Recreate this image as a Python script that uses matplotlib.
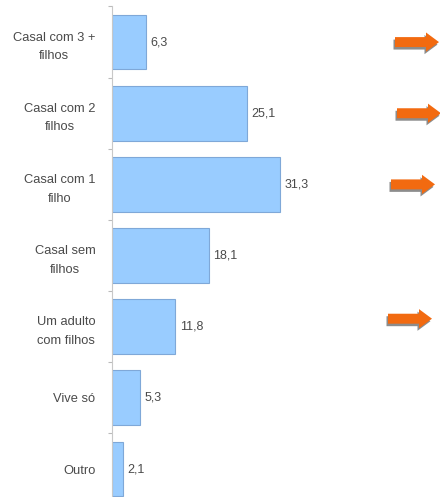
import matplotlib
matplotlib.use("Agg")
import matplotlib.pyplot as plt
from matplotlib.patches import FancyArrow
from matplotlib.transforms import blended_transform_factory, offset_copy
import numpy as np

plt.rcParams['font.family'] = ['Liberation Sans', 'DejaVu Sans']

categories = ["Casal com 3 +\nfilhos", "Casal com 2\nfilhos", "Casal com 1\nfilho",
              "Casal sem\nfilhos", "Um adulto\ncom filhos", "Vive só", "Outro"]
values = [6.3, 25.1, 31.3, 18.1, 11.8, 5.3, 2.1]
value_labels = ["6,3", "25,1", "31,3", "18,1", "11,8", "5,3", "2,1"]
highlighted = [0, 1, 2, 4]

W, H = 440, 497
fig = plt.figure(figsize=(W / 100, H / 100), dpi=100)
fig.patch.set_facecolor("white")

left_px, top_px, bottom_px = 112, 6.5, 504.6
ax = fig.add_axes([left_px / W, 1 - bottom_px / H, (W - left_px) / W, (bottom_px - top_px) / H])

y = np.arange(len(categories))
ax.barh(y, values, height=0.77, color="#99CCFF", edgecolor="#7FA8D8", linewidth=0.8)

ax.set_ylim(len(categories) - 0.5, -0.5)
ax.set_xlim(0, (W - left_px) / 5.37)

text_color = "#4A4A4A"
for yi, v, lab in zip(y, values, value_labels):
    ax.text(v + 0.8, yi, lab, va="center", ha="left", fontsize=9, color=text_color)

ax.set_yticks(y)
ax.set_yticklabels(categories, fontsize=9.3, color=text_color,
                   multialignment="center", linespacing=1.75)
ax.tick_params(axis="y", which="major", length=0, pad=12)
ax.set_yticks(np.arange(len(categories) + 1) - 0.5, minor=True)
ax.tick_params(axis="y", which="minor", length=3, color="#BBBBBB", width=0.8)
ax.set_xticks([])

for side in ["top", "right", "bottom"]:
    ax.spines[side].set_visible(False)
ax.spines["left"].set_color("#C8C8C8")
ax.spines["left"].set_linewidth(0.8)

# orange arrows next to the highlighted rows
trans = blended_transform_factory(fig.transFigure, ax.transData)
arrow_x_px = [395, 397, 391, 388]
arrow_dy_px = [0, 0, 0, 8]
for idx, xpx, dypx in zip(highlighted, arrow_x_px, arrow_dy_px):
    x0 = xpx / W
    length = 44 / W
    for dx, dy, col in [(-1.5, -2.5, "#8C8C8C"), (0, 0, "#F26A10")]:
        t = offset_copy(trans, fig=fig, x=dx, y=dy + dypx, units="dots")
        arr = FancyArrow(x0, idx, length, 0, width=0.14, head_width=0.27,
                         head_length=13 / W, length_includes_head=True,
                         transform=t, color=col, linewidth=0, clip_on=False)
        fig.patches.append(arr)

fig.savefig("out.png", dpi=100, facecolor="white")
